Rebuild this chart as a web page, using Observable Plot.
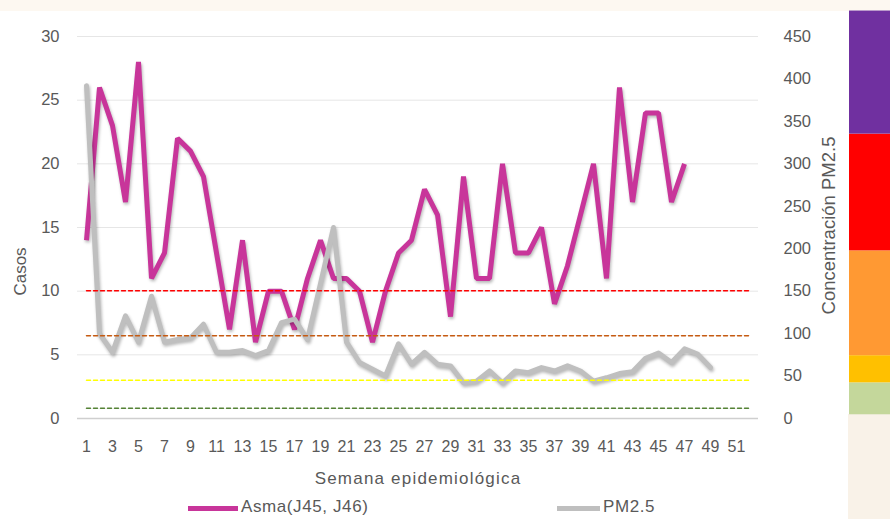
<!DOCTYPE html>
<html><head><meta charset="utf-8">
<script src="https://cdn.jsdelivr.net/npm/d3@7"></script>
<script src="https://cdn.jsdelivr.net/npm/@observablehq/plot@0.6"></script>
<style>
body{margin:0;background:#fff;font-family:"Liberation Sans",Arial,sans-serif;}
#wrap{position:relative;width:890px;height:519px;overflow:hidden;background:#fff;}
#deco-top{position:absolute;left:0;top:0;width:890px;height:11px;background:#fdf8f1;}
#deco-right{position:absolute;left:848px;top:414px;width:42px;height:105px;background:#f9f2e8;}
#chart{position:absolute;left:0;top:0;}
#band{position:absolute;left:849px;top:0;}
#legend{position:absolute;left:0;top:492px;width:890px;height:27px;font-size:17px;color:#595959;letter-spacing:0.6px;}
#legend .sw{position:absolute;top:14px;height:5px;}
#legend .lb{position:absolute;top:6px;line-height:18px;}
</style></head>
<body><div id="wrap">
<div id="deco-top"></div><div id="deco-right"></div>
<div id="chart"></div><div id="band"></div>
<div id="legend"></div>
</div>
<script>
const weeks = d3.range(1, 53);
const weekTicks = d3.range(1, 52, 2);
const asma = [14,26,23,17,28,11,13,22,21,19,13,7,14,6,10,10,7,11,14,11,11,10,6,10,13,14,18,16,8,19,11,11,20,13,13,15,9,12,16,20,11,26,17,24,24,17,20];
const pm25 = [392,100,78,121,90,144,90,93,95,111,78,78,80,74,80,113,117,93,159,225,90,66,58,50,88,64,78,64,62,42,44,56,42,56,54,60,56,62,56,44,48,53,55,71,77,66,82,76,60];
const casosTicks = [0,5,10,15,20,25,30];
const pmTicks = [0,50,100,150,200,250,300,350,400,450];
const limits = [12,45,97.4,150.4];
const limitColors = ["#548235","#ffff00","#c55a11","#ff0000"];
const bandEdges = [4.4,42,74,197.5,335,480];
const bandColors = ["#c4d79b","#ffc000","#ff9933","#ff0000","#7030a0"];
const seriesNames = ["Asma(J45, J46)","PM2.5"];
const seriesColors = ["#c8359a","#bfbfbf"];

const PM_PER_CASE = 450 / 30;
const asmaData = asma.map((v,i)=>({week:weeks[i], v}));
const pmData = pm25.map((v,i)=>({week:weeks[i], v:v/PM_PER_CASE}));

const H=492, MT=36, MB=74, ML=77, MR=132;
const font = '"Liberation Sans", Arial, sans-serif';
const shadow = "drop-shadow(1px 2px 1.5px rgba(0,0,0,0.28))";

const chart = Plot.plot({
  width:890, height:H, marginTop:MT, marginBottom:MB, marginLeft:ML, marginRight:MR,
  style:{fontFamily:font, fontSize:"15px", color:"#595959", background:"transparent", overflow:"visible"},
  x:{type:"point", domain:weeks, padding:0.5},
  y:{domain:[0,30]},
  marks:[
    Plot.ruleY(casosTicks.filter(d=>d>0), {stroke:"#e6e6e6", strokeWidth:1}),
    Plot.ruleY([0], {stroke:"#cfcfcf", strokeWidth:1.3}),
    Plot.axisY(casosTicks, {anchor:"left", tickSize:0, tickPadding:18, label:null, fontSize:16.5}),
    Plot.axisY(pmTicks.map(d=>d/PM_PER_CASE), {anchor:"right", tickSize:0, tickPadding:25, label:null, fontSize:16.5, tickFormat:d=>Math.round(d*PM_PER_CASE)}),
    Plot.axisX(weekTicks, {anchor:"bottom", tickSize:0, tickPadding:22, label:null, fontSize:16}),
    Plot.lineY(asmaData, {x:"week", y:"v", stroke:seriesColors[0], strokeWidth:5, strokeLinejoin:"miter", strokeLinecap:"butt"}),
    Plot.lineY(pmData, {x:"week", y:"v", stroke:seriesColors[1], strokeWidth:5, strokeLinejoin:"round"}),
    ...limits.map((l,j)=>Plot.lineY(weeks, {x:d=>d, y:()=>l/PM_PER_CASE, stroke:limitColors[j], strokeWidth:1.5, strokeDasharray:"4,3"})),
    Plot.text(["Casos"], {frameAnchor:"left", textAnchor:"middle", lineAnchor:"middle", rotate:-90, dx:-57, dy:44, fontSize:17, fill:"#595959", style:"letter-spacing:0.8px"}),
    Plot.text(["Concentración PM2.5"], {frameAnchor:"right", textAnchor:"middle", lineAnchor:"middle", rotate:-90, dx:71, dy:-2, fontSize:18.5, fill:"#595959"}),
    Plot.text(["Semana epidemiológica"], {frameAnchor:"bottom", textAnchor:"middle", lineAnchor:"middle", dy:60, fontSize:17, fill:"#595959"})
  ]
});
chart.querySelectorAll('g[aria-label="line"]').forEach((g,i)=>{ if(i<2) g.style.filter = shadow; });
chart.querySelectorAll('g[aria-label="text"] text').forEach(t=>{ if(/Semana/.test(t.textContent)) t.style.letterSpacing="1.2px"; });
document.getElementById("chart").appendChild(chart);

const bands = bandColors.map((c,i)=>({lo:bandEdges[i]/PM_PER_CASE, hi:bandEdges[i+1]/PM_PER_CASE, color:c}));
const band = Plot.plot({
  width:41, height:H, marginTop:MT, marginBottom:MB, marginLeft:0, marginRight:0,
  style:{background:"transparent", overflow:"visible"},
  x:{domain:[0,1], axis:null}, y:{domain:[0,30], axis:null},
  marks:[Plot.rect(bands, {x1:()=>0, x2:()=>1, y1:"lo", y2:"hi", fill:d=>d.color})]
});
document.getElementById("band").appendChild(band);

const leg = document.getElementById("legend");
const legPos = [[188,50,241],[557,43,603]];
seriesNames.forEach((n,i)=>{
  const sw = document.createElement("div"); sw.className="sw";
  sw.style.left = legPos[i][0]+"px"; sw.style.width = legPos[i][1]+"px"; sw.style.background = seriesColors[i];
  const lb = document.createElement("div"); lb.className="lb"; lb.style.left = legPos[i][2]+"px"; lb.textContent = n;
  leg.appendChild(sw); leg.appendChild(lb);
});
</script>
</body></html>
